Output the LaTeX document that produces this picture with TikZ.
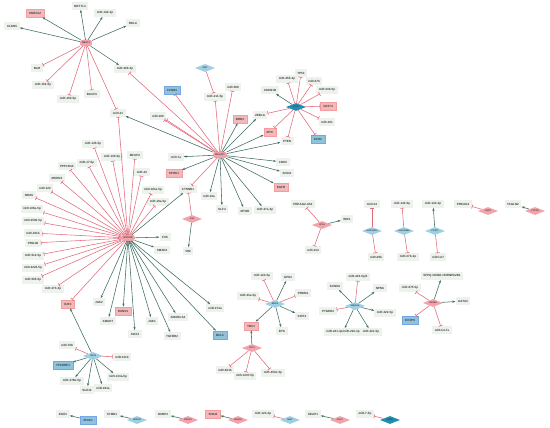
\documentclass[tikz,border=0pt]{standalone}
\usepackage{fontspec}
\setmainfont{Liberation Sans}
\usetikzlibrary{shapes.geometric,arrows.meta}
\definecolor{gfill}{HTML}{EDF3EC}
\definecolor{pinkf}{HTML}{F3B9BA}
\definecolor{bluef}{HTML}{8CC3DD}
\definecolor{dblue}{HTML}{1E8FB3}
\definecolor{pdia}{HTML}{F2A2AA}
\definecolor{bdia}{HTML}{9DCFE5}
\definecolor{actc}{HTML}{3C6B60}
\definecolor{inhc}{HTML}{E2697A}
\tikzset{
 every node/.style={font=\fontsize{3}{3.5}\selectfont\bfseries, text=black!75},
 lbl/.style={rectangle, fill=gfill, inner xsep=2.5pt, inner ysep=0pt, minimum height=7.5pt},
 pbox/.style={rectangle, fill=pinkf, draw=pinkf!85!red, line width=0.2pt, inner xsep=3pt, inner ysep=0pt, minimum height=8.5pt},
 bbox/.style={rectangle, fill=bluef, draw=bluef!85!blue, line width=0.2pt, inner xsep=3pt, inner ysep=0pt, minimum height=8.5pt},
 hubp/.style={rectangle, rounded corners=2.5pt, fill=pdia, draw=inhc!80, line width=0.2pt, inner xsep=2pt, inner ysep=0pt, minimum height=6pt, font=\fontsize{2.4}{3}\selectfont\bfseries},
 dia/.style={diamond, aspect=2.6, inner sep=0pt, minimum width=20pt, minimum height=8pt, font=\fontsize{2.2}{2.6}\selectfont\bfseries},
 pdiam/.style={dia, fill=pdia},
 bdiam/.style={dia, fill=bdia},
 ddiam/.style={dia, fill=dblue},
 act/.style={draw=actc, line width=0.55pt, -{Stealth[length=3pt,width=2.2pt]}},
 inh/.style={draw=inhc, line width=0.55pt, -{Bar[width=4pt,line width=0.6pt]}},
}
\begin{document}
\begin{tikzpicture}[x=1pt,y=-1pt]
\fill[white] (0,0) rectangle (550,428);
\useasboundingbox (0,0) rectangle (550,428);
% cluster A
\node[pbox] (snhg) at (35,13) {SNHG12};
\node[lbl] (mettl) at (80,6) {METTL3};
\node[lbl] (m142) at (105,13) {miR-142-3p};
\node[lbl] (rela) at (133,23) {RELA};
\node[lbl] (cldn) at (12,26) {CLDN5};
\node[hubp] (h1) at (86,43) {NEAT1};
\node[lbl] (blm) at (37,68) {BLM};
\node[lbl] (m200) at (125,69) {miR-200-3p};
\node[lbl] (m152) at (43,85) {miR-152-5p};
\node[lbl] (bach) at (92,94) {BACH1};
\node[lbl] (m150a) at (68,99) {miR-150-5p};
\node[lbl] (m21) at (118,113) {miR-21};
% cluster B
\node[bdiam] (xist) at (205,68) {XIST};
\node[bbox] (ccnb) at (172,90) {CCNB1};
\node[lbl] (m211) at (215,97) {miR-211-5p};
\node[lbl] (m508) at (233,87) {miR-508};
\node[lbl] (m106) at (158,116) {miR-106};
\node[pbox] (brd) at (240,119) {BRD3};
\node[lbl] (zeb) at (260,115) {ZEB1A};
\node[pbox] (myc) at (270,132) {MYC};
\node[lbl] (cdkn) at (270,90) {CDKN1B};
\node[hubp] (h2) at (220,155) {MALAT1};
\node[lbl] (m7a) at (176,157) {miR-7a};
\node[pbox] (sphk) at (174,173) {SPHK1};
\node[lbl] (ctnn) at (188,189) {CTNNB1};
\node[lbl] (m34) at (209,196) {miR-34a};
\node[lbl] (klf) at (222,209) {KLF4};
\node[lbl] (mtor) at (245,211) {MTOR};
\node[lbl] (m27a) at (265,210) {miR-27a-3p};
\node[lbl] (pten) at (287,141) {PTEN};
\node[lbl] (cdk6) at (283,162) {CDK6};
\node[lbl] (snai) at (287,173) {SNAI1};
\node[pbox] (egfr) at (281,187) {EGFR};
\node[pdiam] (h19) at (192,219) {H19};
\node[lbl] (vim) at (188,251) {VIM};
% cluster C
\node[ddiam] (h3) at (296,107) {TUG1};
\node[lbl] (m455) at (287,79) {miR-455-3p};
\node[lbl] (tp53) at (301,73) {TP53};
\node[lbl] (m27b) at (314,81) {miR-27b};
\node[lbl] (m33b) at (327,90) {miR-33b-5p};
\node[pbox] (cd274) at (328,106) {CD274};
\node[lbl] (m101) at (327,122) {miR-101};
\node[bbox] (ezh) at (318,139) {EZH2};
% cluster D
\node[hubp] (h4) at (128,238) {HOTAIR};
\node[lbl] (m145) at (93,144) {miR-145-5p};
\node[lbl] (m150b) at (112,157) {miR-130-5p};
\node[lbl] (mfap) at (135,155) {MFAP2};
\node[lbl] (m17) at (87,163) {miR-17-5p};
\node[lbl] (ppp) at (67,166) {PPP1R3A};
\node[lbl] (mkrn) at (57,178) {MKRN3};
\node[lbl] (m122) at (45,188) {miR-122};
\node[lbl] (nras) at (29,195) {NRAS};
\node[lbl] (m106a) at (32,209) {miR-106a-5p};
\node[lbl] (m4500) at (33,221) {miR-4500-5p};
\node[lbl] (m451b) at (33,233) {miR-451b};
\node[lbl] (prg) at (33,243) {PRG1B};
\node[lbl] (m512) at (33,256) {miR-512-5p};
\node[lbl] (m3224) at (33,268) {miR-3224-5p};
\node[lbl] (m505) at (33,280) {miR-505-5p};
\node[lbl] (m373) at (53,289) {miR-373-3p};
\node[pbox] (e2f3) at (68,304) {E2F3};
\node[lbl] (m22) at (142,172) {miR-22};
\node[lbl] (m181) at (153,190) {miR-181a-5p};
\node[lbl] (m19) at (158,202) {miR-19a-5p};
\node[lbl] (fus) at (165,237) {FUS};
\node[lbl] (smad2) at (162,250) {SMAD2};
\node[lbl] (jak2) at (99,302) {JAK2};
\node[pbox] (runx) at (123,311) {RUNX3};
\node[lbl] (smad7) at (108,321) {SMAD7};
\node[lbl] (sox4) at (135,334) {SOX4};
\node[lbl] (jak1) at (152,321) {JAK1};
\node[lbl] (tgfb) at (172,336) {TGFBR2};
\node[lbl] (smarca) at (178,317) {SMARCA4};
\node[lbl] (m374) at (215,308) {miR-374a};
\node[bbox] (bcl2) at (220,335) {BCL2};
% cluster E
\node[bdiam] (h5) at (93,356) {GAS5};
\node[lbl] (m708) at (67,345) {miR-708};
\node[lbl] (m411) at (122,357) {miR-411b};
\node[bbox] (tp53i) at (63,365) {TP53INP1};
\node[lbl] (m379) at (72,381) {miR-379b-5p};
\node[lbl] (suz) at (87,390) {SUZ12};
\node[lbl] (m381) at (103,388) {miR-381a};
\node[lbl] (m133) at (118,377) {miR-133a-5p};
% small clusters right
\node[pdiam] (fd) at (322,225) {UCA1};
\node[lbl] (prkas) at (303,204) {PRKAG2-AS1};
\node[lbl] (wif) at (347,219) {WIF1};
\node[lbl] (m214) at (313,250) {miR-214};
\node[bdiam] (gd) at (372,231) {LINC00473};
\node[lbl] (m24) at (372,204) {miR-24};
\node[lbl] (m29b) at (376,257) {miR-29b};
\node[bdiam] (hd) at (404,231) {LINC00689};
\node[lbl] (m142b) at (402,204) {miR-142-5p};
\node[lbl] (m27b3) at (408,257) {miR-27b-3p};
\node[bdiam] (id) at (435,231) {PCAT1};
\node[lbl] (m143) at (433,204) {miR-143-3p};
\node[lbl] (mlet) at (438,257) {miR-let7};
\node[pdiam] (pd1) at (488,211) {LINP1};
\node[lbl] (prkag) at (463,204) {PRKAG2};
\node[pdiam] (pd2) at (535,211) {CYTOR};
\node[lbl] (tagln) at (513,204) {TAGLN2};
% cluster J
\node[bdiam] (jd) at (275,304) {MEG3};
\node[lbl] (m124) at (262,276) {miR-124-5p};
\node[lbl] (gpd) at (288,277) {GPD1};
\node[lbl] (prdm) at (303,293) {PRDM1};
\node[lbl] (sirt) at (302,316) {SIRT4};
\node[lbl] (btk) at (282,331) {BTK};
\node[lbl] (m33a) at (248,296) {miR-33a-5p};
% cluster M
\node[pdiam] (md) at (252,348) {PVT1};
\node[pbox] (ybx) at (251,326) {YBX1};
\node[lbl] (m601) at (225,370) {miR-601b};
\node[lbl] (m1207) at (245,376) {miR-1207-5p};
\node[lbl] (m451) at (273,373) {miR-451b-5p};
% cluster K
\node[bdiam] (kd) at (355,306) {SNHG16};
\node[lbl] (m224) at (358,277) {miR-224-5p/4};
\node[lbl] (kcnn) at (335,286) {KCNN3};
\node[lbl] (npm) at (380,288) {NPM1};
\node[lbl] (ptger) at (328,311) {PTGER2};
\node[lbl] (m222) at (385,313) {miR-222-5p};
\node[lbl] (m221) at (343,332) {miR-221-3p/miR-222-3p};
\node[lbl] (m221b) at (371,332) {miR-221-5p};
% cluster N
\node[pdiam] (nd) at (433,303) {CRNDE};
\node[lbl] (sfpq) at (442,276) {SFPQ-NONO-HNRNPA2B1};
\node[lbl] (m875) at (410,288) {miR-875-5p};
\node[lbl] (gata) at (463,301) {GATA3};
\node[bbox] (dusp) at (410,320) {DUSP6};
\node[lbl] (mlet7) at (442,330) {miR-let-7e};
% bottom row
\node[lbl] (egr) at (63,414) {EGR1};
\node[bbox] (bb1) at (88,420) {ZFAS1};
\node[lbl] (stmn) at (112,414) {STMN1};
\node[bdiam] (bd1) at (137,420) {DANCR};
\node[lbl] (ncbp) at (163,414) {NCBP2};
\node[pdiam] (pd3) at (188,420) {SNHG1};
\node[pbox] (snai2) at (213,414) {SNAI2};
\node[pdiam] (pd4) at (238,420) {SNHG6};
\node[lbl] (m1243) at (263,414) {miR-124-3p};
\node[bdiam] (bd2) at (290,420) {MIAT};
\node[lbl] (keap) at (313,414) {KEAP1};
\node[pdiam] (pd5) at (340,420) {HULC};
\node[lbl] (m75) at (365,414) {miR-7-5p};
\node[ddiam] (dd1) at (390,420) {ANRIL};
% edges
\foreach \t in {snhg,mettl,m142,rela,cldn,m200} \draw[act] (h1) -- (\t);
\foreach \t in {blm,m152,m150a,bach,m21} \draw[inh] (h1) -- (\t);
\foreach \t in {m200,ccnb,m211,m508,m106,ctnn} \draw[inh] (h2) -- (\t);
\draw[inh] (h2) -- (m106.south east);
\draw[inh] (xist) -- (m211);
\foreach \t in {m21,brd,zeb,myc,pten,cdk6,snai,egfr,m27a,mtor,klf,m34,m7a,sphk} \draw[act] (h2) -- (\t);
\draw[inh] (h19) -- (ctnn);
\draw[act] (h19) -- (vim);
\foreach \t in {m455,tp53,m27b,m33b,cd274,m101,ezh,pten,zeb,myc} \draw[inh] (h3) -- (\t);
\draw[act] (h3) -- (cdkn);
\foreach \t in {m145,m150b,mfap,m17,ppp,mkrn,m122,nras,m106a,m4500,m451b,prg,m512,m3224,m505,m373,e2f3,m22,m181,m19,m21} \draw[inh] (h4) -- (\t);
\foreach \t in {ctnn,fus,smad2,jak2,runx,smad7,sox4,jak1,tgfb,smarca,m374,bcl2} \draw[act] (h4) -- (\t);
\foreach \t in {e2f3,tp53i,m379,suz,m381,m133} \draw[act] (h5) -- (\t);
\foreach \t in {m708,m411} \draw[inh] (h5) -- (\t);
\draw[inh] (fd) -- (prkas); \draw[inh] (fd) -- (m214); \draw[act] (fd) -- (wif);
\draw[inh] (gd) -- (m24); \draw[inh] (gd) -- (m29b);
\draw[inh] (hd) -- (m142b); \draw[inh] (hd) -- (m27b3);
\draw[act] (id) -- (m143); \draw[inh] (id) -- (mlet);
\draw[inh] (pd1) -- (prkag);
\draw[act] (pd2) -- (tagln);
\foreach \t in {m124,prdm,m33a} \draw[inh] (jd) -- (\t);
\foreach \t in {gpd,sirt,btk,ybx} \draw[act] (jd) -- (\t);
\draw[act] (md) -- (ybx);
\foreach \t in {m601,m1207,m451} \draw[inh] (md) -- (\t);
\foreach \t in {m224,ptger} \draw[inh] (kd) -- (\t);
\foreach \t in {kcnn,npm,m222,m221,m221b} \draw[act] (kd) -- (\t);
\foreach \t in {sfpq,gata} \draw[act] (nd) -- (\t);
\foreach \t in {m875,dusp,mlet7} \draw[inh] (nd) -- (\t);
\draw[act] (bb1) -- (egr);
\draw[act] (bd1) -- (stmn);
\draw[act] (pd3) -- (ncbp);
\draw[act] (pd4) -- (snai2);
\draw[inh] (bd2) -- (m1243);
\draw[act] (pd5) -- (keap);
\draw[inh] (dd1) -- (m75);
\end{tikzpicture}
\end{document}
